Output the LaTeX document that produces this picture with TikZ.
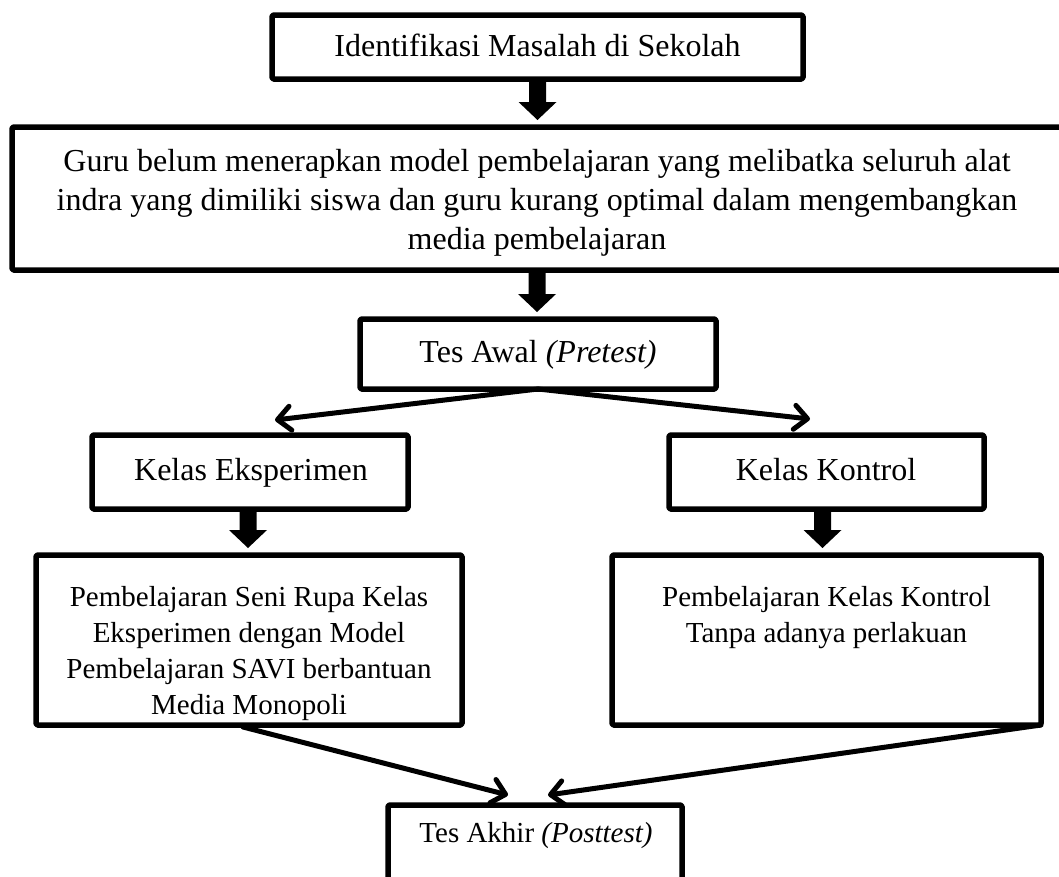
\documentclass[tikz,border=0pt]{standalone}
\usepackage{fontspec}
\setmainfont{Liberation Serif}
\usetikzlibrary{arrows.meta,calc}
\tikzset{
  box/.style={draw, line width=5.5pt, line join=round, rounded corners=1.5pt, inner sep=0pt, outer sep=0pt, fill=white},
  bigtxt/.style={inner sep=0pt, font=\fontsize{32}{39}\selectfont},
  smalltxt/.style={inner sep=0pt, font=\fontsize{29}{36}\selectfont},
  thinarrow/.style={line width=5pt, line cap=round, -{Straight Barb[length=13pt,width=24pt,line cap=round,line join=round]}},
}
\newcommand\fatarrow[2]{%
  \fill let \p1=(#1), \p2=(#2) in
    (\x1-8.5pt,\y1) -- (\x1+8.5pt,\y1) -- (\x1+8.5pt,\y2+18pt) -- (\x1+19pt,\y2+18pt)
    -- (\x1,\y2) -- (\x1-19pt,\y2+18pt) -- (\x1-8.5pt,\y2+18pt) -- cycle;}
\begin{document}
\begin{tikzpicture}[x=1pt,y=-1pt]
\clip (0,0) rectangle (1059,876);
\fill[white] (0,0) rectangle (1059,876);
% boxes
\node[box, minimum width=531, minimum height=64] (b1) at (537.5,47) {};
\node[box, minimum width=1050, minimum height=143] (b2) at (537,198.5) {};
\node[box, minimum width=356, minimum height=70] (b3) at (538,354) {};
\node[box, minimum width=316, minimum height=74] (b4) at (250,472) {};
\node[box, minimum width=315, minimum height=74] (b5) at (826.5,472) {};
\node[box, minimum width=426, minimum height=170] (b6) at (249,640) {};
\node[box, minimum width=429, minimum height=170] (b7) at (826.5,640) {};
\node[box, minimum width=294, minimum height=110] (b8) at (535,860) {};
% texts
\node[bigtxt, anchor=base] (t1) at (537.5,56) {Identifikasi Masalah di Sekolah};
\node[bigtxt, align=center] (t2) at (537,202.5) {Guru belum menerapkan model pembelajaran yang melibatka seluruh alat\\indra yang dimiliki siswa dan guru kurang optimal dalam mengembangkan\\media pembelajaran};
\node[bigtxt, anchor=base] (t3) at (538,362) {Tes Awal \textit{(Pretest)}};
\node[bigtxt, anchor=base] (t4) at (251,480) {Kelas Eksperimen};
\node[bigtxt, anchor=base] (t5) at (826,480) {Kelas Kontrol};
\node[smalltxt, align=center] (t6) at (249,654) {Pembelajaran Seni Rupa Kelas\\Eksperimen dengan Model\\Pembelajaran SAVI berbantuan\\Media Monopoli};
\node[smalltxt, align=center] (t7) at (826.5,618) {Pembelajaran Kelas Kontrol\\Tanpa adanya perlakuan};
\node[smalltxt, anchor=base] (t8) at (536,842) {Tes Akhir \textit{(Posttest)}};
% fat arrows
\fatarrow{b1.south}{$(b2.north)+(0,-7)$}
\fatarrow{b2.south}{$(b3.north)+(0,-7)$}
\fatarrow{$(b4.south)+(-2,0)$}{$(b6.north)+(0,-7)$}
\fatarrow{$(b5.south)+(-4,0)$}{$(b7.north)+(0,-7)$}
% thin arrows
\coordinate (tl) at ($(b4.north)+(25,-15)$);
\coordinate (tr) at ($(b5.north)+(-16.5,-16)$);
\coordinate (bl) at ($(b8.north)+(-27,-10)$);
\coordinate (br) at ($(b8.north)+(13,-10)$);
\draw[thinarrow] (b3.south) -- (tl);
\draw[thinarrow] (b3.south) -- (tr);
\draw[thinarrow] ($(b6.south)+(-6,2)$) -- (bl);
\draw[thinarrow] (b7.south east) -- (br);
\end{tikzpicture}
\end{document}
